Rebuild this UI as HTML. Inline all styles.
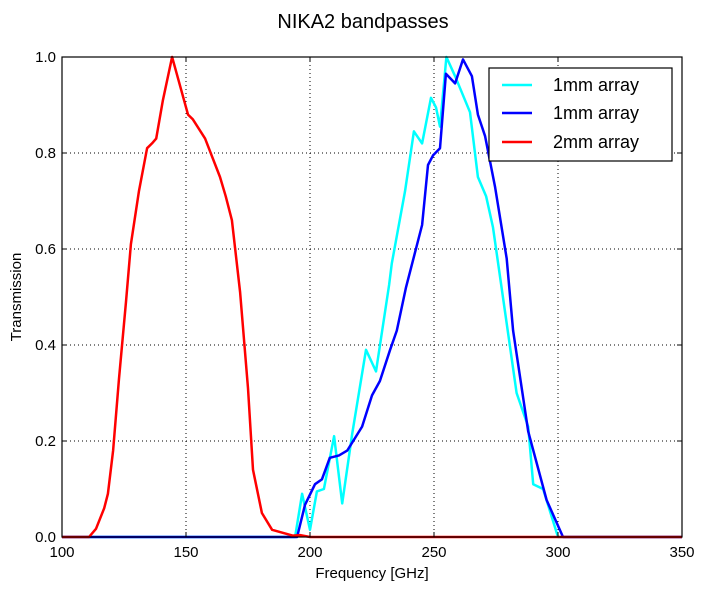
<!DOCTYPE html>
<html><head><meta charset="utf-8"><style>
body{margin:0;background:#fff;}
svg{display:block;font-family:"Liberation Sans","DejaVu Sans",sans-serif;}
</style></head><body>
<svg id="chart" width="706" height="590"></svg>
<script>
const xTicks=[100,150,200,250,300,350];
const yTicks=[0.0,0.2,0.4,0.6,0.8,1.0];
const redX=[100,110.9,113.7,117,118.5,120.6,123,125.8,127.8,131,134.3,136.3,138,140.7,144.4,146,150.8,152.8,157.7,163.7,166,168.5,171.8,175,177,180.6,184.7,193,196,200,350];
const redY=[0,0,0.017,0.06,0.09,0.18,0.33,0.49,0.61,0.72,0.81,0.82,0.83,0.91,1.0,0.97,0.88,0.87,0.83,0.75,0.71,0.66,0.51,0.31,0.14,0.05,0.015,0.003,0.004,0,0];
const cyanX=[100,194,196.8,200,202.8,205.6,209.7,213,217,222.6,226.6,231.9,233,238.3,241.9,245.2,248.8,250.8,252.4,255,258.5,264.5,267.7,271,273.8,283.3,288,290,294,300,350];
const cyanY=[0,0,0.09,0.015,0.095,0.10,0.21,0.07,0.215,0.39,0.345,0.525,0.57,0.72,0.845,0.82,0.915,0.895,0.855,1.0,0.96,0.885,0.75,0.71,0.645,0.30,0.23,0.11,0.10,0,0];
const blueX=[100,194.8,198,202,204.8,208,211.7,215,221,225,228.2,232.3,235,238.7,245.2,247.6,249.6,252.4,254.8,258.5,261.7,265.3,267.7,270.6,274.6,279.3,281.9,288,295.4,302,350];
const blueY=[0,0,0.067,0.11,0.12,0.165,0.17,0.18,0.23,0.295,0.325,0.39,0.43,0.52,0.65,0.775,0.795,0.81,0.965,0.945,0.995,0.96,0.88,0.835,0.73,0.58,0.43,0.22,0.077,0,0];
const L=62,R=682,T=57,B=537;
const sx=v=>L+(v-100)/250*(R-L);
const sy=v=>B-v*(B-T);
const NS="http://www.w3.org/2000/svg";
const svg=document.getElementById('chart');
function mk(tag,attrs,parent){const e=document.createElementNS(NS,tag);for(const k in attrs)e.setAttribute(k,attrs[k]);(parent||svg).appendChild(e);return e;}
xTicks.forEach(t=>{const l=mk('line',{x1:sx(t),x2:sx(t),y1:T,y2:B,stroke:'#000','stroke-width':1,'stroke-dasharray':'1,3'});

});
yTicks.forEach(t=>{const l=mk('line',{x1:L,x2:R,y1:sy(t),y2:sy(t),stroke:'#000','stroke-width':1,'stroke-dasharray':'1,3'});

});
function series(xs,ys,color,name){const p=xs.map((x,i)=>sx(x).toFixed(1)+','+sy(ys[i]).toFixed(1)).join(' ');
const pl=mk('polyline',{points:p,fill:'none',stroke:color,'stroke-width':2.5,'stroke-linejoin':'round'});

}
series(cyanX,cyanY,'#00ffff','series-1mm-cyan');
series(blueX,blueY,'#0000ff','series-1mm-blue');
series(redX,redY,'#ff0000','series-2mm');
const fr=mk('rect',{x:L,y:T,width:R-L,height:B-T,fill:'none',stroke:'#000','stroke-width':1.2});


xTicks.forEach(t=>{mk('line',{x1:sx(t),x2:sx(t),y1:B,y2:B-5,stroke:'#000'});mk('line',{x1:sx(t),x2:sx(t),y1:T,y2:T+5,stroke:'#000'});
const tx=mk('text',{x:sx(t),y:B+20,'text-anchor':'middle','font-size':15});tx.textContent=t;

});
yTicks.forEach(t=>{mk('line',{x1:L,x2:L+5,y1:sy(t),y2:sy(t),stroke:'#000'});mk('line',{x1:R,x2:R-5,y1:sy(t),y2:sy(t),stroke:'#000'});
const tx=mk('text',{x:L-6,y:sy(t)+5,'text-anchor':'end','font-size':15});tx.textContent=t.toFixed(1);

});
</script>
<script>
(function(){
const svg=document.getElementById('chart');const NS="http://www.w3.org/2000/svg";
function mk(tag,attrs,parent){const e=document.createElementNS(NS,tag);for(const k in attrs)e.setAttribute(k,attrs[k]);(parent||svg).appendChild(e);return e;}
const title=mk('text',{x:363,y:28,'text-anchor':'middle','font-size':20});title.textContent='NIKA2 bandpasses';


const xl=mk('text',{x:372,y:578,'text-anchor':'middle','font-size':15});xl.textContent='Frequency [GHz]';


const yl=mk('text',{x:21,y:297,'text-anchor':'middle','font-size':15,transform:'rotate(-90 21 297)'});yl.textContent='Transmission';


const lg=mk('g',{});


mk('rect',{x:489,y:68,width:183,height:93,fill:'#fff',stroke:'#000','stroke-width':1.2},lg);
const entries=[['#00ffff','1mm array',85],['#0000ff','1mm array',113],['#ff0000','2mm array',142]];
entries.forEach(e=>{
const g=mk('g',{},lg);


mk('line',{x1:502,x2:532,y1:e[2],y2:e[2],stroke:e[0],'stroke-width':2.5},g);
const t=mk('text',{x:553,y:e[2]+6,'font-size':18},g);t.textContent=e[1];});
})();
</script>
</body></html>
